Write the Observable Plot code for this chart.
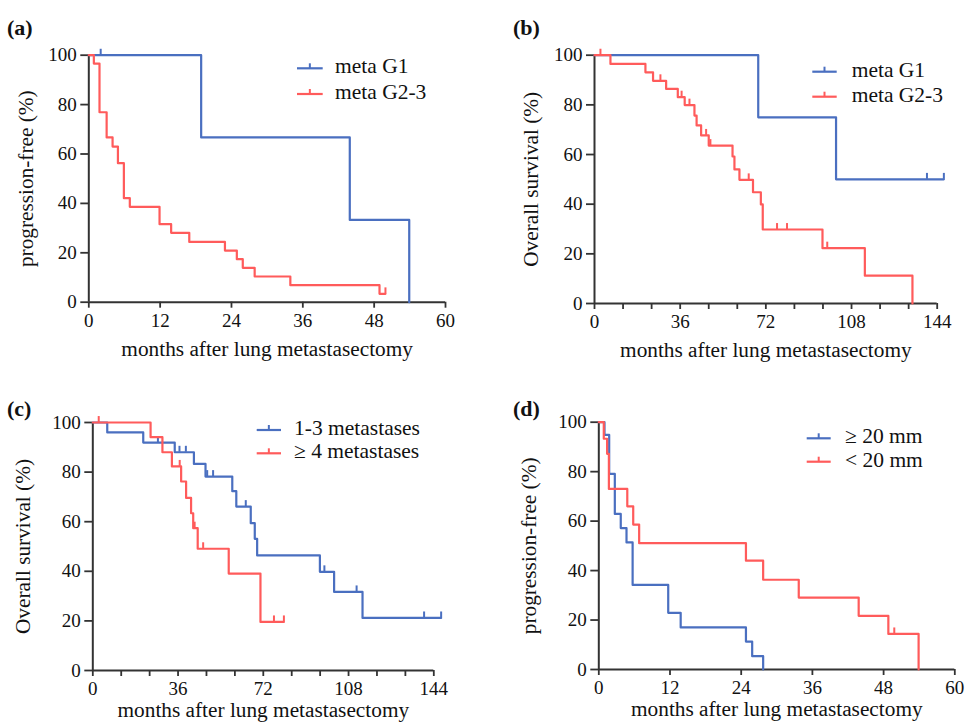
<!DOCTYPE html>
<html><head><meta charset="utf-8">
<script src="https://cdn.jsdelivr.net/npm/d3@7"></script>
<script src="https://cdn.jsdelivr.net/npm/@observablehq/plot@0.6"></script>
<style>
body{margin:0;background:#fff;}
#wrap{position:relative;width:965px;height:724px;overflow:hidden;background:#fff;font-family:"Liberation Serif","Tinos","Times New Roman","DejaVu Serif",serif;}
.panel{position:absolute;}
#overlay{position:absolute;left:0;top:0;pointer-events:none;}
svg text{font-family:"Liberation Serif","Tinos","Times New Roman","DejaVu Serif",serif !important;}
</style></head><body><div id="wrap"></div>
<script>
// ---------- DATA ----------
// Panel (a): progression-free by grade
const aG1Months  = [0, 18.9, 43.9, 53.9];
const aG1Pct     = [100, 66.7, 33.3, 0];
const aG1CensMonths = [2.0];
const aG1CensPct    = [100];
const aG23Months = [0, 0.85, 1.8, 3.0, 4.0, 4.9, 5.9, 6.9, 11.9, 13.85, 16.9, 22.9, 24.9, 25.9, 27.9, 33.9, 48.9, 49.9];
const aG23Pct    = [100, 96.6, 76.9, 66.7, 63.0, 56.3, 42.1, 38.6, 31.6, 28.1, 24.4, 20.9, 17.4, 13.9, 10.4, 6.9, 3.4, 3.4];
const aG23CensMonths = [49.9];
const aG23CensPct    = [3.4];

// Panel (b): overall survival by grade
const bG1Months  = [0, 68.8, 101.5, 146.8];
const bG1Pct     = [100, 75, 50, 50];
const bG1CensMonths = [139.7, 146.8];
const bG1CensPct    = [50, 50];
const bG23Months = [0, 6.7, 21.4, 24.6, 30.1, 35.0, 37.9, 42.0, 42.9, 44.8, 48.0, 58.0, 58.8, 60.9, 66.6, 69.9, 70.7, 95.8, 113.6, 133.6];
const bG23Pct    = [100, 96.5, 93.1, 89.7, 86.4, 83.1, 79.9, 75.7, 71.7, 67.7, 63.6, 59.2, 54.0, 49.8, 44.8, 39.9, 29.8, 22.3, 11.2, 0];
const bG23CensMonths = [2.5, 27.7, 36.6, 39.9, 46.9, 48.7, 64.8, 76.7, 80.9, 97.8];
const bG23CensPct    = [100, 89.7, 83.1, 79.9, 67.7, 63.6, 49.8, 29.8, 29.8, 22.3];

// Panel (c): overall survival by number of metastases
const cFewMonths = [0, 6.1, 21.3, 34.6, 42.7, 47.6, 58.9, 60.6, 66.7, 68.4, 69.4, 95.9, 101.9, 113.9, 147.1];
const cFewPct    = [100, 96.0, 91.9, 88.0, 83.3, 78.2, 72.3, 66.1, 59.4, 53.1, 46.4, 39.8, 31.7, 21.2, 21.2];
const cFewCensMonths = [27.5, 36.6, 39.3, 48.3, 50.8, 64.6, 97.8, 111.4, 139.9, 147.1];
const cFewCensPct    = [91.9, 88.0, 88.0, 78.2, 78.2, 66.1, 39.8, 31.7, 21.2, 21.2];
const cManyMonths = [0, 24.4, 29.4, 33.4, 37.3, 39.4, 41.5, 42.4, 44.3, 57.4, 70.8, 80.7];
const cManyPct    = [100, 94.1, 88.0, 82.3, 76.2, 69.6, 63.4, 57.4, 49.1, 39.1, 19.6, 19.6];
const cManyCensMonths = [2.5, 36.7, 43.0, 46.6, 76.5, 80.7];
const cManyCensPct    = [100, 82.3, 57.4, 49.1, 19.6, 19.6];

// Panel (d): progression-free by size
const dLargeMonths = [0, 0.96, 1.75, 2.7, 3.7, 4.67, 5.7, 11.7, 13.8, 24.8, 25.85, 27.7];
const dLargePct    = [100, 94.9, 79.1, 62.9, 57.2, 51.4, 34.2, 22.9, 17.0, 11.3, 5.4, 0];
const dSmallMonths = [0, 0.84, 1.4, 1.7, 4.8, 5.8, 6.8, 24.8, 27.7, 33.7, 43.8, 48.8, 53.9];
const dSmallPct    = [100, 93.3, 87.2, 73.0, 66.0, 58.6, 51.1, 44.0, 36.3, 29.1, 21.7, 14.4, 0];
const dSmallCensMonths = [49.8];
const dSmallCensPct    = [14.4];

const yTicks = [0, 20, 40, 60, 80, 100];
const xTicks60 = [0, 12, 24, 36, 48, 60];
const xTicks144 = [0, 12, 24, 36, 48, 60, 72, 84, 96, 108, 120, 132, 144];
const xLabels144 = [0, 36, 72, 108, 144];

const BLUE = "#4a6fc0";
const RED = "#ff5b5b";
const AX = "#333333";
const FONT = "'Liberation Serif', Tinos, 'Times New Roman', 'DejaVu Serif', serif";

// ---------- helpers ----------
const zip = (t, s) => t.map((v, i) => ({t: v, s: s[i]}));

function drawPanel(cfg) {
  const marks = [
    Plot.ruleY([0], {stroke: AX, strokeWidth: 2}),
    Plot.ruleX([0], {stroke: AX, strokeWidth: 2}),
    Plot.axisX({ticks: cfg.xTicks, tickFormat: d => cfg.xLabels.includes(d) ? String(d) : "",
      tickSize: 6, tickPadding: 5, stroke: AX, strokeWidth: 1.8, fill: "#111", fontSize: 19, fontFamily: FONT, label: null}),
    Plot.axisY({ticks: yTicks, tickSize: 8, tickPadding: 4, stroke: AX, strokeWidth: 1.8,
      fill: "#111", fontSize: 19, fontFamily: FONT, label: null}),
    Plot.text([cfg.xTitle], {text: d => d, frameAnchor: "bottom", dy: cfg.xTitleDy, lineAnchor: "middle", textAnchor: "middle",
      fontSize: 21.3, fontFamily: FONT, fill: "#111"}),
    Plot.text([cfg.yTitle], {text: d => d, frameAnchor: "left", dx: cfg.yTitleDx, rotate: -90, lineAnchor: "middle", textAnchor: "middle",
      fontSize: 21.3, fontFamily: FONT, fill: "#111"})
  ];
  for (const s of cfg.series) {
    marks.push(Plot.line(s.curve, {x: "t", y: "s", curve: "step-after", stroke: s.color, strokeWidth: 2.2}));
    if (s.cens.length) marks.push(Plot.ruleX(s.cens, {x: "t", y1: "s", y2: d => d.s + 2.4, stroke: s.color, strokeWidth: 2}));
  }
  const svg = Plot.plot({
    width: cfg.w, height: cfg.h,
    marginLeft: cfg.ml, marginTop: cfg.mt, marginRight: cfg.mr, marginBottom: cfg.mb,
    x: {domain: cfg.xDomain},
    y: {domain: [0, 100]},
    style: {fontFamily: FONT, fontSize: "19px", color: "#111", background: "transparent", overflow: "visible"},
    marks
  });
  const div = document.createElement("div");
  div.className = "panel";
  div.style.left = cfg.left + "px";
  div.style.top = cfg.top + "px";
  div.appendChild(svg);
  document.getElementById("wrap").appendChild(div);
}

const XT = "months after lung metastasectomy";

drawPanel({left: 0, top: 0, w: 482, h: 362, ml: 88.3, mt: 54.7, mr: 37, mb: 60.3,
  xDomain: [0, 60], xTicks: xTicks60, xLabels: xTicks60, xTitle: XT, xTitleDy: 47, yTitle: "progression-free (%)", yTitleDx: -63,
  series: [
    {curve: zip(aG1Months, aG1Pct), cens: zip(aG1CensMonths, aG1CensPct), color: BLUE},
    {curve: zip(aG23Months, aG23Pct), cens: zip(aG23CensMonths, aG23CensPct), color: RED}
  ]});
drawPanel({left: 482, top: 0, w: 483, h: 362, ml: 112, mt: 54.7, mr: 28.3, mb: 59,
  xDomain: [0, 144], xTicks: xTicks144, xLabels: xLabels144, xTitle: XT, xTitleDy: 47, yTitle: "Overall survival (%)", yTitleDx: -63.5,
  series: [
    {curve: zip(bG1Months, bG1Pct), cens: zip(bG1CensMonths, bG1CensPct), color: BLUE},
    {curve: zip(bG23Months, bG23Pct), cens: zip(bG23CensMonths, bG23CensPct), color: RED}
  ]});
drawPanel({left: 0, top: 362, w: 482, h: 362, ml: 92.3, mt: 60, mr: 48.7, mb: 54,
  xDomain: [0, 144], xTicks: xTicks144, xLabels: xLabels144, xTitle: XT, xTitleDy: 40, yTitle: "Overall survival (%)", yTitleDx: -69.5,
  series: [
    {curve: zip(cFewMonths, cFewPct), cens: zip(cFewCensMonths, cFewCensPct), color: BLUE},
    {curve: zip(cManyMonths, cManyPct), cens: zip(cManyCensMonths, cManyCensPct), color: RED}
  ]});
drawPanel({left: 482, top: 362, w: 483, h: 362, ml: 116.3, mt: 59.7, mr: 10.7, mb: 55,
  xDomain: [0, 60], xTicks: xTicks60, xLabels: xTicks60, xTitle: XT, xTitleDy: 40, yTitle: "progression-free (%)", yTitleDx: -70,
  series: [
    {curve: zip(dLargeMonths, dLargePct), cens: [], color: BLUE},
    {curve: zip(dSmallMonths, dSmallPct), cens: zip(dSmallCensMonths, dSmallCensPct), color: RED}
  ]});

// ---------- overlay: panel letters and legends ----------
const panelLetters = ["(a)", "(b)", "(c)", "(d)"];
const letterPos = [[7, 35], [513, 35], [7, 416], [513, 416]];
const legends = [
  {x0: 297, x1: 322.7, tx: 335, ys: [68.3, 94], labels: ["meta G1", "meta G2-3"]},
  {x0: 812.3, x1: 836.7, tx: 851.7, ys: [71.7, 96.7], labels: ["meta G1", "meta G2-3"]},
  {x0: 256.7, x1: 281, tx: 294, ys: [430, 453.3], labels: ["1-3 metastases", "≥ 4 metastases"]},
  {x0: 806.7, x1: 830.7, tx: 845, ys: [438.3, 461.7], labels: ["≥ 20 mm", "< 20 mm"]}
];
const ns = "http://www.w3.org/2000/svg";
const ov = document.createElementNS(ns, "svg");
ov.setAttribute("id", "overlay");
ov.setAttribute("width", 965); ov.setAttribute("height", 724);
ov.style.fontFamily = FONT;
function el(tag, attrs, text) {
  const e = document.createElementNS(ns, tag);
  for (const k in attrs) e.setAttribute(k, attrs[k]);
  if (text != null) e.textContent = text;
  ov.appendChild(e);
}
panelLetters.forEach((l, i) => el("text", {x: letterPos[i][0], y: letterPos[i][1], "font-size": 22, "font-weight": "bold", fill: "#111"}, l));
legends.forEach(lg => {
  lg.ys.forEach((y, j) => {
    const c = j === 0 ? BLUE : RED;
    el("line", {x1: lg.x0, x2: lg.x1, y1: y, y2: y, stroke: c, "stroke-width": 2.2});
    el("line", {x1: (lg.x0 + lg.x1) / 2, x2: (lg.x0 + lg.x1) / 2, y1: y, y2: y - 5, stroke: c, "stroke-width": 2});
    el("text", {x: lg.tx, y: y + 5, "font-size": 21.5, fill: "#111"}, lg.labels[j]);
  });
});
document.getElementById("wrap").appendChild(ov);
</script>
</body></html>
